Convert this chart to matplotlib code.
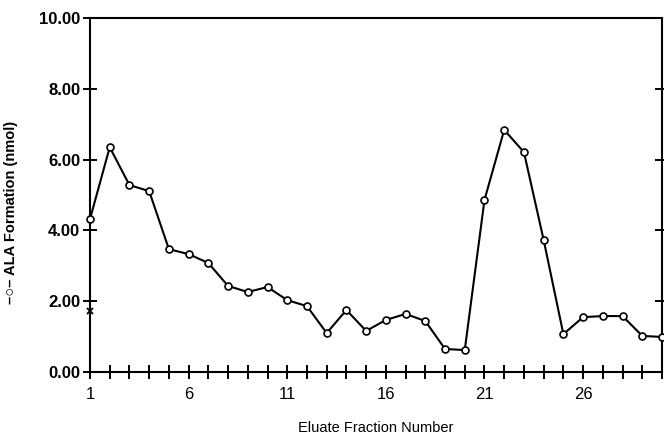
import matplotlib
matplotlib.use("Agg")
import matplotlib.pyplot as plt
import numpy as np

fractions = list(range(1, 31))
ala = [4.32, 6.35, 5.28, 5.11, 3.47, 3.33, 3.08, 2.43, 2.26, 2.40,
       2.03, 1.86, 1.10, 1.75, 1.16, 1.47, 1.64, 1.44, 0.65, 0.62,
       4.86, 6.84, 6.21, 3.73, 1.07, 1.55, 1.58, 1.58, 1.02, 0.99]
x_mark_frac = [1]
x_mark_val = [1.73]
ytick_vals = [0, 2, 4, 6, 8, 10]
xtick_labels = [1, 6, 11, 16, 21, 26]

plt.rcParams['font.family'] = ['Liberation Sans', 'DejaVu Sans']

W, H = 664, 436
fig = plt.figure(figsize=(W/100, H/100), dpi=100)
ax = fig.add_axes([90/W, 1-372/H, (662-90)/W, (372-18)/H])

ax.plot(fractions, ala, color='black', lw=1.5, marker='o', ms=5,
        mfc='white', mec='black', mew=1.2, clip_on=False, zorder=3)
ax.plot(x_mark_frac, x_mark_val, 'x', color='black', ms=4, mew=1.3,
        clip_on=False, zorder=4)

ax.set_xlim(1, 30)
ax.set_ylim(0, 10)
for s in ax.spines.values():
    s.set_linewidth(1.5)

ax.set_yticks(ytick_vals)
ax.set_yticklabels([f"{v:.2f}" for v in ytick_vals], fontsize=12, fontweight='bold')
ax.tick_params(axis='y', direction='inout', length=10, width=1.4, pad=2)
ax.set_xticks(fractions)
ax.set_xticklabels([str(f) if f in xtick_labels else "" for f in fractions],
                   fontsize=12)
ax.tick_params(axis='x', direction='inout', length=10, width=1.4, pad=6)

# right-axis ticks only at inner values
ax2 = ax.twinx()
ax2.set_ylim(0, 10)
ax2.set_yticks([2, 4, 6, 8])
ax2.set_yticklabels([])
ax2.tick_params(axis='y', direction='inout', length=10, width=1.4)
ax2.spines[:].set_visible(False)

fig.text(376/W, 1-428/H, "Eluate Fraction Number", fontsize=10.5,
         ha='center', va='center')
fig.text(11/W, 1-212/H, "–○– ALA Formation (nmol)", fontsize=10.5,
         fontweight='bold', rotation=90, ha='center', va='center')

fig.savefig("out.png", dpi=100)
